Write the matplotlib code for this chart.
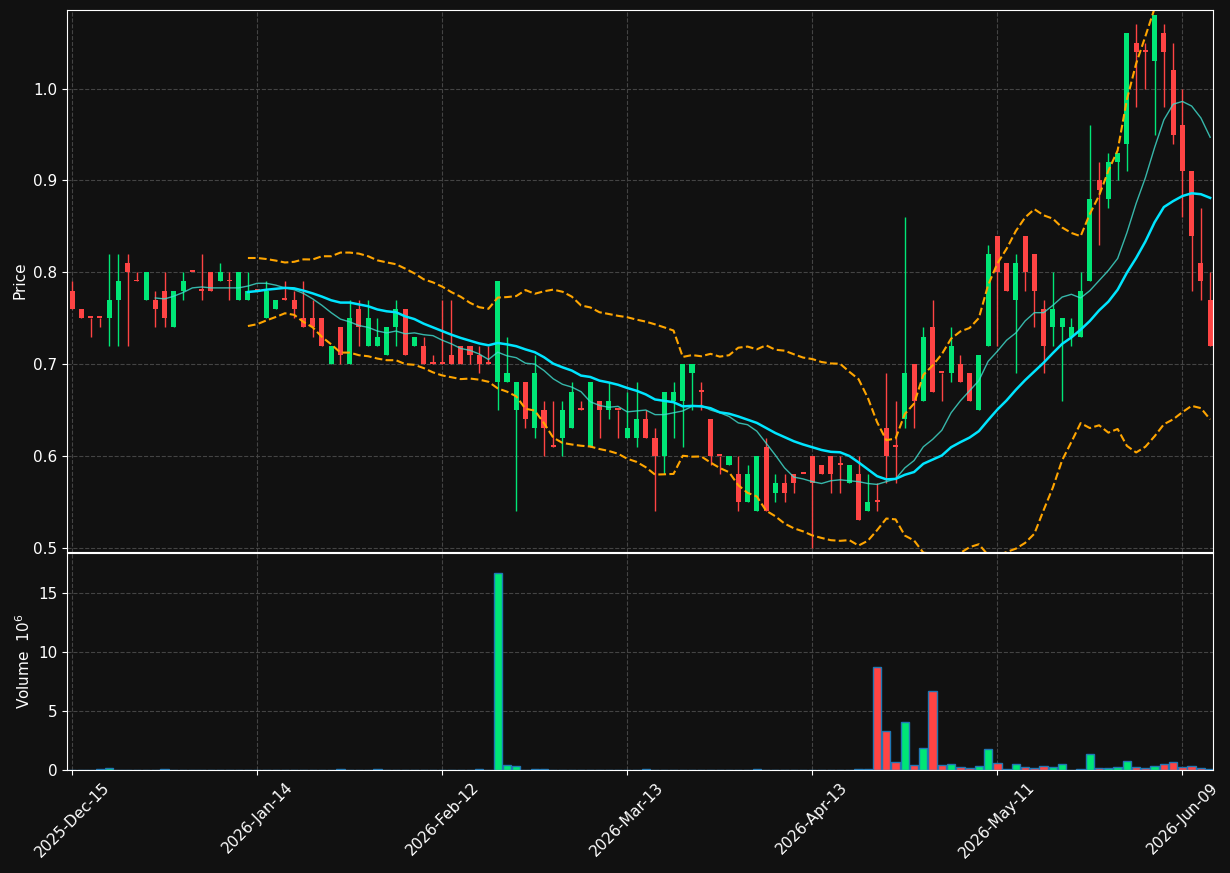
import numpy as np
import matplotlib
matplotlib.use("Agg")
import matplotlib.pyplot as plt

opens = [.78,.76,.75,.75,.75,.77,.81,.79,.77,.77,.78,.74,.78,.80,.78,.80,.79,.79,.77,.77,
         .78,.75,.76,.77,.77,.75,.75,.75,.70,.74,.70,.76,.72,.72,.71,.74,.76,.72,.72,.70,
         .70,.71,.72,.72,.71,.70,.68,.68,.65,.68,.63,.65,.61,.62,.63,.65,.61,.66,.65,.65,
         .62,.62,.64,.62,.60,.66,.66,.69,.67,.64,.60,.59,.58,.55,.54,.61,.56,.57,.58,.58,
         .60,.59,.60,.59,.57,.58,.54,.55,.63,.61,.64,.70,.66,.74,.69,.69,.70,.69,.65,.72,
         .84,.81,.77,.84,.82,.76,.74,.74,.73,.73,.79,.90,.88,.92,.94,1.05,1.04,1.03,1.06,1.02,
         .96,.91,.81,.77]
closes = [.76,.75,.75,.75,.77,.79,.80,.79,.80,.76,.75,.78,.79,.80,.78,.78,.80,.79,.80,.78,
          .78,.78,.77,.77,.76,.74,.74,.72,.72,.71,.75,.74,.75,.73,.74,.76,.71,.73,.70,.70,
          .70,.70,.70,.71,.70,.70,.79,.69,.68,.64,.69,.63,.61,.65,.67,.65,.68,.65,.66,.65,
          .63,.64,.62,.60,.67,.67,.70,.70,.67,.60,.60,.60,.55,.58,.60,.54,.57,.56,.57,.58,
          .57,.58,.58,.59,.59,.53,.55,.55,.60,.61,.69,.66,.73,.67,.69,.72,.68,.66,.71,.82,
          .80,.78,.81,.80,.78,.72,.76,.75,.74,.78,.88,.89,.92,.93,1.06,1.04,1.04,1.08,1.04,.95,
          .91,.84,.79,.72]
highs = [.79,.76,.75,.75,.82,.82,.82,.80,.80,.78,.80,.78,.80,.80,.82,.80,.81,.80,.80,.80,
         .78,.79,.77,.79,.78,.79,.77,.75,.72,.74,.77,.77,.77,.75,.74,.77,.76,.73,.73,.71,
         .77,.77,.72,.72,.72,.72,.79,.73,.68,.68,.71,.66,.66,.66,.68,.66,.68,.66,.68,.65,
         .67,.68,.65,.63,.67,.68,.70,.70,.68,.64,.60,.60,.60,.59,.60,.62,.58,.58,.58,.58,
         .60,.59,.60,.60,.59,.60,.58,.57,.69,.66,.86,.70,.74,.77,.69,.74,.71,.69,.71,.83,
         .84,.81,.82,.84,.82,.77,.80,.75,.75,.80,.96,.92,.93,.93,1.06,1.07,1.05,1.08,1.07,1.05,
         1.00,.91,.87,.80]
lows = [.76,.75,.73,.74,.72,.72,.72,.79,.77,.74,.74,.74,.77,.80,.77,.78,.79,.77,.77,.77,
        .78,.75,.76,.77,.75,.74,.73,.72,.70,.70,.70,.72,.72,.72,.71,.72,.71,.72,.70,.70,
        .70,.70,.70,.70,.69,.70,.65,.68,.54,.63,.62,.60,.61,.60,.63,.65,.61,.62,.64,.62,
        .62,.61,.62,.54,.58,.62,.61,.65,.65,.59,.58,.59,.54,.55,.54,.54,.55,.55,.56,.58,
        .50,.58,.56,.56,.57,.53,.54,.54,.57,.57,.63,.63,.66,.67,.66,.68,.68,.66,.65,.72,
        .72,.78,.69,.78,.74,.69,.72,.66,.72,.73,.79,.83,.87,.90,.91,.98,1.00,.95,.98,.94,
        .86,.78,.77,.72]
volumes = [0,0,0,.05,.15,0,0,0,0,0,.05,0,0,0,0,0,0,0,0,0,
           0,0,0,0,0,0,0,0,0,.05,0,0,0,.05,0,0,0,0,0,0,
           0,0,0,0,.05,0,16.7,.4,.3,.02,.1,.1,.02,.02,.02,0,.03,.03,0,0,
           .03,.03,.1,.02,.02,.02,.02,0,.03,.03,0,.03,.03,0,.1,0,0,0,0,.03,
           0,0,0,0,.03,.05,.1,8.7,3.3,.65,4.1,.4,1.9,6.7,.4,.5,.22,.15,.3,1.75,
           .55,.05,.5,.22,.15,.3,.22,.5,.03,.12,1.35,.14,.14,.22,.75,.22,.15,.3,.5,.65,
           .22,.3,.14,.05]
tick_pos = [0, 20, 40, 60, 80, 100, 120]
tick_labels = ["2025-Dec-15", "2026-Jan-14", "2026-Feb-12", "2026-Mar-13",
               "2026-Apr-13", "2026-May-11", "2026-Jun-09"]

o = np.array(opens); c = np.array(closes); h = np.array(highs); l = np.array(lows)
v = np.array(volumes)
x = np.arange(len(c))
up_col, dn_col = "#00e676", "#ff4444"
cols = [up_col if cc > oo else dn_col for oo, cc in zip(o, c)]

def sma(a, n):
    out = np.full(len(a), np.nan)
    for i in range(n - 1, len(a)):
        out[i] = a[i - n + 1:i + 1].mean()
    return out

ma10 = sma(c, 10)
ma20 = sma(c, 20)
std20 = np.full(len(c), np.nan)
for i in range(19, len(c)):
    std20[i] = c[i - 19:i + 1].std()
upper = ma20 + 2 * std20
lower = ma20 - 2 * std20

bg = "#111111"
fig = plt.figure(figsize=(12.3, 8.73), dpi=100, facecolor=bg)
ax = fig.add_axes([0.0545, 0.368, 0.932, 0.621])
axv = fig.add_axes([0.0545, 0.118, 0.932, 0.249], sharex=ax)

for a in (ax, axv):
    a.set_facecolor(bg)
    for s in a.spines.values():
        s.set_color("white")
    a.tick_params(colors="white", labelsize=11)
    a.grid(True, color="#444444", linestyle="--", linewidth=0.8)
    a.set_axisbelow(True)

ax.vlines(x, l, h, colors=cols, linewidth=1)
ax.bar(x, np.maximum(np.abs(c - o), 0.002), bottom=np.minimum(o, c), width=0.55, color=cols)
ax.plot(x, ma10, color="#40e0d0", linewidth=1, alpha=0.8)
ax.plot(x, ma20, color="#00e5ff", linewidth=1.8)
ax.plot(x, upper, color="orange", linestyle="--", linewidth=1.5)
ax.plot(x, lower, color="orange", linestyle="--", linewidth=1.5)
ax.set_ylim(0.4957, 1.086)
ax.set_ylabel("Price", color="white", fontsize=11)
plt.setp(ax.get_xticklabels(), visible=False)

axv.bar(x, v, width=0.9, color=cols, edgecolor="#1f77b4", linewidth=1)
axv.set_ylim(0, 18.4)
axv.set_yticks([0, 5, 10, 15])
axv.set_ylabel("Volume  $10^6$", color="white", fontsize=11)
axv.set_xlim(-0.55, 123.35)
axv.set_xticks(tick_pos)
axv.set_xticklabels(tick_labels, rotation=45)

fig.savefig("out.png", dpi=100, facecolor=bg)
